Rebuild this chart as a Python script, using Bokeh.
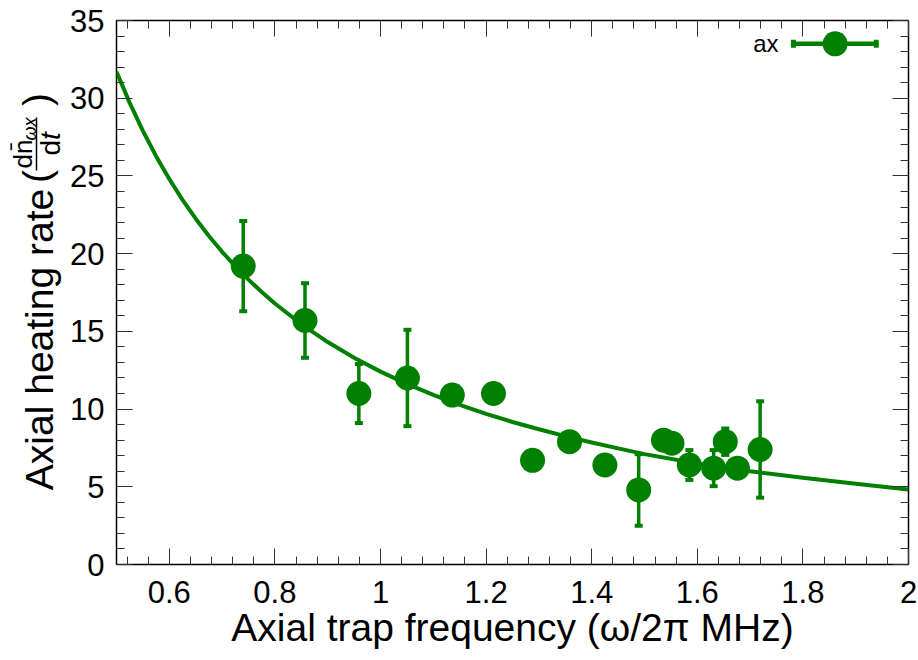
import math
from bokeh.plotting import figure
from bokeh.layouts import row
from bokeh.models import (Range1d, SingleIntervalTicker, LinearAxis,
                          CustomJSTickFormatter, ColumnDataSource)
from bokeh.core.properties import value
from bokeh.embed import file_html
from bokeh.resources import INLINE

# ---- data ----
freq = [0.740, 0.857, 0.959, 1.051, 1.136, 1.214, 1.288, 1.358, 1.425,
        1.489, 1.536, 1.552, 1.585, 1.631, 1.653, 1.676, 1.719]
rate = [19.2, 15.7, 11.0, 12.0, 10.9, 11.0, 6.7, 7.9, 6.4,
        4.8, 8.0, 7.8, 6.4, 6.2, 7.9, 6.2, 7.4]
rate_err = [2.9, 2.4, 1.9, 3.1, 0.0, 0.0, 0.0, 0.0, 0.0,
            2.3, 0.0, 0.0, 0.96, 1.16, 0.85, 0.0, 3.1]

fit_x = [0.500, 0.525, 0.550, 0.575, 0.600, 0.625, 0.650, 0.675, 0.700, 0.725,
         0.750, 0.775, 0.800, 0.850, 0.900, 0.950, 1.000, 1.050, 1.100, 1.150,
         1.200, 1.250, 1.300, 1.350, 1.400, 1.450, 1.500, 1.600, 1.700, 1.800,
         1.900, 2.000]
fit_y = [31.70, 29.70, 27.90, 26.27, 24.80, 23.46, 22.25, 21.14, 20.12, 19.19,
         18.33, 17.53, 16.79, 15.47, 14.31, 13.30, 12.41, 11.62, 10.91, 10.27,
         9.69, 9.17, 8.70, 8.26, 7.85, 7.47, 7.10, 6.50, 6.00, 5.58,
         5.20, 4.83]

legend_label = "ax"
x_label = "Axial trap frequency (\u03c9/2\u03c0 MHz)"
y_label = "Axial heating rate"

GREEN = "#008000"
FONT = "Liberation Sans"
LABEL_W = 66            # width of the strip that holds the y-axis title
TOP, BOTTOM = 20, 96    # borders above / below the plotting frame
H = 660

p = figure(width=918 - LABEL_W, height=H, x_range=Range1d(0.5, 2.0), y_range=Range1d(0, 35),
           output_backend="svg", toolbar_location=None,
           min_border_left=116 - LABEL_W, min_border_right=10, min_border_top=TOP,
           min_border_bottom=BOTTOM)
p.grid.visible = False
p.outline_line_color = "black"
p.outline_line_width = 1.5
p.background_fill_color = "white"
p.border_fill_color = "white"

fmt = CustomJSTickFormatter(code="return String(Math.round(tick*10)/10);")

def style(ax, labels=True):
    ax.major_tick_in = 16
    ax.major_tick_out = 0
    ax.minor_tick_in = 8
    ax.minor_tick_out = 0
    ax.major_tick_line_color = "#333333"
    ax.minor_tick_line_color = "#333333"
    ax.major_tick_line_width = 1
    ax.minor_tick_line_width = 1
    ax.axis_line_color = None
    ax.major_label_text_font = FONT
    ax.major_label_text_color = "black"
    ax.major_label_text_font_size = "31px"
    if not labels:
        ax.major_label_text_color = None
        ax.major_label_text_font_size = "1px"

p.xaxis.ticker = SingleIntervalTicker(interval=0.2, num_minor_ticks=5)
p.xaxis.formatter = fmt
p.yaxis.ticker = SingleIntervalTicker(interval=5, num_minor_ticks=5)
style(p.xaxis[0])
style(p.yaxis[0])
p.xaxis.major_label_standoff = 16
p.yaxis.major_label_standoff = 12
p.xaxis.axis_label = x_label
p.xaxis.axis_label_text_font = FONT
p.xaxis.axis_label_text_font_style = "normal"
p.xaxis.axis_label_text_font_size = "39px"
p.xaxis.axis_label_text_color = "black"
p.xaxis.axis_label_standoff = 0

top = LinearAxis(ticker=SingleIntervalTicker(interval=0.2, num_minor_ticks=5))
style(top, labels=False)
p.add_layout(top, "above")
right = LinearAxis(ticker=SingleIntervalTicker(interval=5, num_minor_ticks=5))
style(right, labels=False)
p.add_layout(right, "right")

# error bars (stems + caps), fit curve, markers
lo = [r - e for r, e in zip(rate, rate_err)]
hi = [r + e for r, e in zip(rate, rate_err)]
src = ColumnDataSource(dict(x=freq, y=rate, lo=lo, hi=hi))
p.segment(x0="x", y0="lo", x1="x", y1="hi", source=src, line_color=GREEN, line_width=3.5)
p.rect(x="x", y="lo", width=8, height=4, width_units="screen", height_units="screen",
       source=src, fill_color=GREEN, line_color=None)
p.rect(x="x", y="hi", width=8, height=4, width_units="screen", height_units="screen",
       source=src, fill_color=GREEN, line_color=None)
p.line(fit_x, fit_y, line_color=GREEN, line_width=4, line_join="round")
p.scatter(x="x", y="y", source=src, size=25, marker="circle",
          fill_color=GREEN, line_color=None)

# legend (label on the left of the sample, as in the reference)
leg_y = 33.5
p.text(x=[1.754], y=[leg_y], text=[legend_label], text_font=value(FONT),
       text_font_size="24px", text_align="right", text_baseline="middle", text_color="black")
p.segment(x0=[1.782], y0=[leg_y], x1=[1.939], y1=[leg_y], line_color=GREEN, line_width=4.5)
p.rect(x=[1.782, 1.939], y=[leg_y, leg_y], width=5, height=8, width_units="screen",
       height_units="screen", fill_color=GREEN, line_color=None)
p.scatter(x=[1.861], y=[leg_y], size=25, marker="circle", fill_color=GREEN, line_color=None)

# ---- strip holding the rotated y-axis title ----
# its frame is aligned with the main frame (canvas rows TOP..H-BOTTOM), so a range
# of (BOTTOM, H-TOP) makes  y = H - canvas_row  a 1:1 pixel mapping
lf = figure(width=LABEL_W, height=H, x_range=Range1d(0, LABEL_W),
            y_range=Range1d(BOTTOM, H - TOP),
            output_backend="svg", toolbar_location=None, x_axis_type=None, y_axis_type=None,
            min_border_left=0, min_border_right=0, min_border_top=TOP,
            min_border_bottom=BOTTOM)
lf.grid.visible = False
lf.outline_line_color = None
lf.background_fill_color = "white"
lf.border_fill_color = "white"

def lab(text, cx, cy, size, style="normal"):
    # centre-anchored rotated text (reads bottom to top)
    lf.text(x=[cx], y=[H - cy], text=[text], angle=math.pi / 2, text_font=value(FONT),
            text_font_size=f"{size}px", text_align="center", text_baseline="middle",
            text_font_style=style, text_color="black")

lab(y_label, 38.5, 339, 39)
lab("(", 36, 176, 39)
lab(")", 36, 99, 39)
lab("dn\u0304", 22, 153.5, 26)
lab("\u03c9x", 29, 128.5, 18, style="italic")
lab("d", 50, 147.2, 28)
lab("t", 50, 135.5, 28, style="italic")
lf.segment(x0=[36], y0=[H - 117], x1=[36], y1=[H - 170], line_color="black", line_width=1.5)

layout = row(lf, p, spacing=0)
open("out.html", "w").write(file_html(layout, INLINE))
